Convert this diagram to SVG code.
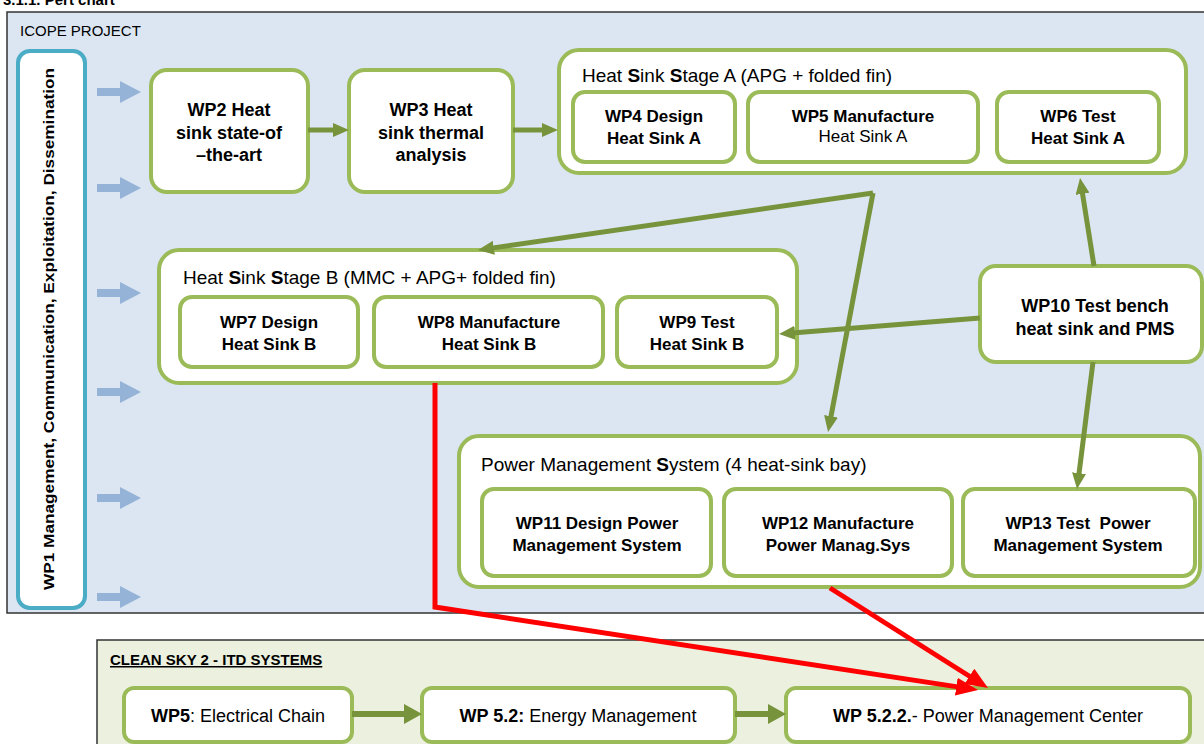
<svg xmlns="http://www.w3.org/2000/svg" width="1204" height="744" viewBox="0 0 1204 744">
  <style>
    .t{font-family:"Liberation Sans",Arial,sans-serif;fill:#000}
    .b{font-weight:bold}
    .c{text-anchor:middle}
    .box{fill:#fff;stroke:#9bbb59;stroke-width:4}
    .grp{fill:#fff;stroke:#9bbb59;stroke-width:4}
    .ga{fill:none;stroke:#77933c;stroke-width:5;marker-end:url(#ah)}
    .gb{fill:none;stroke:#77933c;stroke-width:6;marker-end:url(#ahb)}
    .ra{fill:none;stroke:#ff0000;stroke-width:5;stroke-linejoin:miter;marker-end:url(#ahr)}
    .side{fill:#95b3d7}
  </style>
  <defs>
    <marker id="ah" viewBox="0 0 16 14" refX="6" refY="7" markerWidth="16" markerHeight="14" markerUnits="userSpaceOnUse" orient="auto">
      <path d="M0,0 L16,7 L0,14 Z" fill="#77933c"/>
    </marker>
    <marker id="ahb" viewBox="0 0 18 20" refX="6" refY="10" markerWidth="18" markerHeight="20" markerUnits="userSpaceOnUse" orient="auto">
      <path d="M0,0 L18,10 L0,20 Z" fill="#77933c"/>
    </marker>
    <marker id="ahr" viewBox="0 0 22 18" refX="8" refY="9" markerWidth="22" markerHeight="18" markerUnits="userSpaceOnUse" orient="auto">
      <path d="M0,0 L22,9 L0,18 Z" fill="#ff0000"/>
    </marker>
    <path id="sideArrow" class="side" d="M97,-4 L120,-4 L120,-11 L141,0 L120,11 L120,4 L97,4 Z"/>
  </defs>

  <rect x="0" y="0" width="1204" height="744" fill="#fff"/>

  <!-- section heading, clipped at the top edge -->
  <text class="t b" x="3" y="5" font-size="15" fill="#333">3.1.1. Pert chart</text>

  <!-- ICOPE project frame -->
  <g id="icope">
    <rect x="7" y="12" width="1210" height="601" fill="#dce6f2" stroke="#333" stroke-width="1.5"/>
    <text class="t" x="20" y="36" font-size="15">ICOPE PROJECT</text>
  </g>

  <!-- WP1 vertical bar -->
  <g id="wp1">
    <rect x="18" y="51" width="67" height="557" rx="12" fill="#fff" stroke="#4bacc6" stroke-width="4"/>
    <text class="t b" transform="translate(54,590) rotate(-90)" x="0" y="0" font-size="15" textLength="522" lengthAdjust="spacingAndGlyphs">WP1 Management, Communication, Exploitation, Dissemination</text>
  </g>

  <!-- arrows from WP1 into the work packages -->
  <g id="wp1-arrows">
    <use href="#sideArrow" transform="translate(0,92)"/>
    <use href="#sideArrow" transform="translate(0,188)"/>
    <use href="#sideArrow" transform="translate(0,293)"/>
    <use href="#sideArrow" transform="translate(0,392)"/>
    <use href="#sideArrow" transform="translate(0,498)"/>
    <use href="#sideArrow" transform="translate(0,597)"/>
  </g>

  <g id="wp2">
    <rect class="box" x="151" y="70" width="157" height="122" rx="16"/>
    <text class="t b c" font-size="18"><tspan x="229" y="116">WP2 Heat</tspan><tspan x="229" y="139">sink state-of</tspan><tspan x="229" y="161">–the-art</tspan></text>
  </g>

  <g id="wp3">
    <rect class="box" x="349" y="70" width="164" height="122" rx="16"/>
    <text class="t b c" font-size="18"><tspan x="431" y="116">WP3 Heat</tspan><tspan x="431" y="139">sink thermal</tspan><tspan x="431" y="161">analysis</tspan></text>
  </g>

  <!-- Heat Sink Stage A -->
  <g id="stageA">
    <rect class="grp" x="559" y="50" width="627" height="123" rx="20"/>
    <text class="t" x="582" y="82" font-size="19">Heat <tspan class="b">S</tspan>ink <tspan class="b">S</tspan>tage A (APG + folded fin)</text>
  </g>
  <g id="wp4">
    <rect class="box" x="573" y="92" width="162" height="70" rx="12"/>
    <text class="t b c" font-size="17"><tspan x="654" y="122">WP4 Design</tspan><tspan x="654" y="144">Heat Sink A</tspan></text>
  </g>
  <g id="wp5">
    <rect class="box" x="748" y="92" width="230" height="70" rx="12"/>
    <text class="t c" font-size="17"><tspan class="b" x="863" y="122">WP5 Manufacture</tspan><tspan x="863" y="142">Heat Sink A</tspan></text>
  </g>
  <g id="wp6">
    <rect class="box" x="997" y="92" width="162" height="70" rx="12"/>
    <text class="t b c" font-size="17"><tspan x="1078" y="122">WP6 Test</tspan><tspan x="1078" y="144">Heat Sink A</tspan></text>
  </g>

  <!-- Heat Sink Stage B -->
  <g id="stageB">
    <rect class="grp" x="159" y="250" width="638" height="133" rx="20"/>
    <text class="t" x="183" y="284" font-size="19">Heat <tspan class="b">S</tspan>ink <tspan class="b">S</tspan>tage B (MMC + APG+ folded fin)</text>
  </g>
  <g id="wp7">
    <rect class="box" x="180" y="297" width="178" height="70" rx="12"/>
    <text class="t b c" font-size="17"><tspan x="269" y="328">WP7 Design</tspan><tspan x="269" y="350">Heat Sink B</tspan></text>
  </g>
  <g id="wp8">
    <rect class="box" x="374" y="297" width="229" height="70" rx="12"/>
    <text class="t b c" font-size="17"><tspan x="489" y="328">WP8 Manufacture</tspan><tspan x="489" y="350">Heat Sink B</tspan></text>
  </g>
  <g id="wp9">
    <rect class="box" x="617" y="297" width="160" height="70" rx="12"/>
    <text class="t b c" font-size="17"><tspan x="697" y="328">WP9 Test</tspan><tspan x="697" y="350">Heat Sink B</tspan></text>
  </g>

  <g id="wp10">
    <rect class="box" x="980" y="266" width="222" height="96" rx="16"/>
    <text class="t b c" font-size="18"><tspan x="1095" y="312">WP10 Test bench</tspan><tspan x="1095" y="335">heat sink and PMS</tspan></text>
  </g>

  <!-- Power Management System -->
  <g id="pms">
    <rect class="grp" x="459" y="436" width="741" height="151" rx="20"/>
    <text class="t" x="481" y="471" font-size="19">Power Management <tspan class="b">S</tspan>ystem (4 heat-sink bay)</text>
  </g>
  <g id="wp11">
    <rect class="box" x="482" y="489" width="229" height="87" rx="12"/>
    <text class="t b c" font-size="17"><tspan x="597" y="529">WP11 Design Power</tspan><tspan x="597" y="551">Management System</tspan></text>
  </g>
  <g id="wp12">
    <rect class="box" x="724" y="489" width="228" height="87" rx="12"/>
    <text class="t b c" font-size="17"><tspan x="838" y="529">WP12 Manufacture</tspan><tspan x="838" y="551">Power Manag.Sys</tspan></text>
  </g>
  <g id="wp13">
    <rect class="box" x="963" y="489" width="232" height="87" rx="12"/>
    <text class="t b c" font-size="17"><tspan x="1078" y="529" xml:space="preserve">WP13 Test  Power</tspan><tspan x="1078" y="551">Management System</tspan></text>
  </g>

  <!-- Clean Sky 2 frame -->
  <g id="cleansky">
    <rect x="97" y="640" width="1120" height="120" fill="#ebf1de" stroke="#333" stroke-width="1.5"/>
    <text class="t b" x="110" y="665" font-size="15" text-decoration="underline">CLEAN SKY 2 - ITD SYSTEMS</text>
  </g>
  <g id="cs-wp5">
    <rect class="box" x="124" y="688" width="228" height="54" rx="10"/>
    <text class="t c" x="238" y="722" font-size="18"><tspan class="b">WP5</tspan>: Electrical Chain</text>
  </g>
  <g id="cs-wp52">
    <rect class="box" x="422" y="688" width="313" height="54" rx="10"/>
    <text class="t c" x="578" y="722" font-size="18"><tspan class="b">WP 5.2:</tspan> Energy Management</text>
  </g>
  <g id="cs-wp522">
    <rect class="box" x="786" y="688" width="404" height="54" rx="10"/>
    <text class="t c" x="988" y="722" font-size="18"><tspan class="b">WP 5.2.2.</tspan>- Power Management Center</text>
  </g>

  <!-- connectors -->
  <g id="connectors">
    <line class="ga" x1="308" y1="130" x2="339" y2="130"/>
    <line class="ga" x1="513" y1="130" x2="548" y2="130"/>
    <polyline class="ga" points="873,193 487.9,248.6"/>
    <polyline class="ga" points="873,193 829.9,422.2"/>
    <line class="ga" x1="980" y1="318" x2="789" y2="333.2"/>
    <line class="ga" x1="1094" y1="266" x2="1081.6" y2="187.9"/>
    <line class="ga" x1="1093" y1="362" x2="1078.3" y2="479.1"/>
    <line class="gb" x1="352" y1="714" x2="410" y2="714"/>
    <line class="gb" x1="735" y1="714" x2="774" y2="714"/>
    <polyline class="ra" points="435,383 435,607 964.2,687.9"/>
    <line class="ra" x1="830" y1="588" x2="976.2" y2="680.5"/>
  </g>
</svg>
